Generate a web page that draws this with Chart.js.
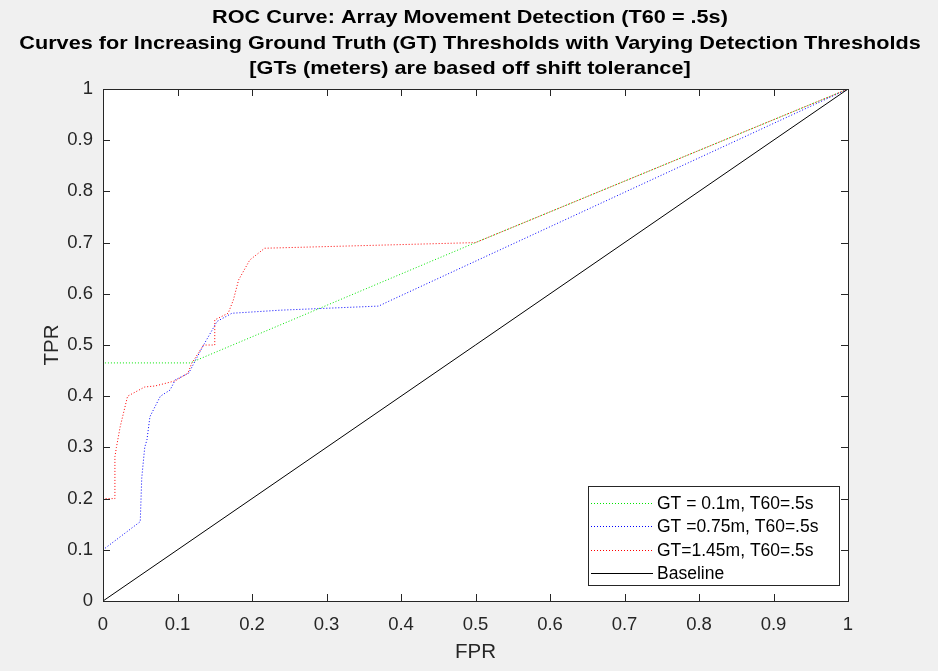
<!DOCTYPE html>
<html>
<head>
<meta charset="utf-8">
<script src="https://cdn.jsdelivr.net/npm/chart.js@4"></script>
<style>
  html, body { margin: 0; padding: 0; background: #f0f0f0; }
  #wrap { width: 938px; height: 671px; }
</style>
</head>
<body>
<div id="wrap"><canvas id="roc" width="938" height="671"></canvas></div>
<script>
// values
const titleLines = [
    'ROC Curve: Array Movement Detection (T60 = .5s)',
    'Curves for Increasing Ground Truth (GT) Thresholds with Varying Detection Thresholds',
    '[GTs (meters) are based off shift tolerance]'
];
const tickVals = [0, 0.1, 0.2, 0.3, 0.4, 0.5, 0.6, 0.7, 0.8, 0.9, 1];

const gt01Fpr = [0, 0, 0.117, 0.5, 1];
const gt01Tpr = [0, 0.465, 0.465, 0.70, 1];

const gt075Fpr = [0, 0, 0.05, 0.052, 0.056, 0.059, 0.063, 0.07, 0.077, 0.09, 0.097, 0.115, 0.123, 0.135, 0.148, 0.153, 0.173, 0.238, 0.37, 0.383, 1];
const gt075Tpr = [0, 0.1, 0.155, 0.24, 0.30, 0.315, 0.36, 0.38, 0.40, 0.412, 0.432, 0.445, 0.467, 0.50, 0.533, 0.546, 0.562, 0.568, 0.576, 0.585, 1];

const gt145Fpr = [0, 0, 0.016, 0.016, 0.018, 0.023, 0.033, 0.056, 0.07, 0.097, 0.114, 0.119, 0.135, 0.15, 0.15, 0.168, 0.175, 0.182, 0.197, 0.217, 0.5, 1];
const gt145Tpr = [0, 0.2, 0.2, 0.282, 0.30, 0.34, 0.40, 0.418, 0.42, 0.43, 0.445, 0.464, 0.50, 0.50, 0.549, 0.562, 0.588, 0.627, 0.666, 0.689, 0.70, 1];

const baseFpr = [0, 1];
const baseTpr = [0, 1];

const pts = (xs, ys) => xs.map((x, i) => ({ x: x, y: ys[i] }));
const FONT = '"Liberation Sans", Arial, Helvetica, sans-serif';
const AX = '#262626';

// white plot area, box with inward ticks, title, legend
const matlabLook = {
    id: 'matlabLook',
    beforeDraw(chart) {
        const c = chart.ctx, a = chart.chartArea;
        c.save();
        c.fillStyle = '#f0f0f0';
        c.fillRect(0, 0, chart.width, chart.height);
        c.fillStyle = '#fff';
        c.fillRect(a.left, a.top, a.right - a.left, a.bottom - a.top);
        c.restore();
    },
    afterDraw(chart) {
        const c = chart.ctx, a = chart.chartArea;
        const xs = chart.scales.x, ys = chart.scales.y;
        c.save();
        c.strokeStyle = AX;
        c.lineWidth = 1;
        c.strokeRect(Math.round(a.left) + 0.5, Math.round(a.top) + 0.5, Math.round(a.right - a.left), Math.round(a.bottom - a.top));
        const tl = 7;
        c.beginPath();
        tickVals.forEach(v => {
            const px = Math.round(xs.getPixelForValue(v)) + 0.5;
            c.moveTo(px, a.bottom); c.lineTo(px, a.bottom - tl);
            c.moveTo(px, a.top); c.lineTo(px, a.top + tl);
            const py = Math.round(ys.getPixelForValue(v)) + 0.5;
            c.moveTo(a.left, py); c.lineTo(a.left + tl, py);
            c.moveTo(a.right, py); c.lineTo(a.right - tl, py);
        });
        c.stroke();

        // title (matlab's bold helvetica is wider, so stretch a bit)
        c.fillStyle = '#000';
        c.font = 'bold 19px ' + FONT;
        c.textAlign = 'center';
        c.textBaseline = 'middle';
        const sx = 1.14;
        titleLines.forEach((t, i) => {
            c.save();
            c.translate(470, 18 + i * 25.5);
            c.scale(sx, 1);
            c.fillText(t, 0, 0);
            c.restore();
        });

        // legend
        const bx = 588.5, by = 486.5, bw = 251, bh = 99;
        c.fillStyle = '#fff';
        c.fillRect(bx, by, bw, bh);
        c.strokeStyle = AX;
        c.strokeRect(bx, by, bw, bh);
        c.font = '17.5px ' + FONT;
        c.textAlign = 'left';
        c.fillStyle = '#000';
        chart.data.datasets.forEach((ds, i) => {
            const y = Math.round(503 + i * 23.3) + 0.5;
            c.strokeStyle = ds.borderColor;
            c.setLineDash(ds.borderDash || []);
            c.beginPath();
            c.moveTo(591, y); c.lineTo(653, y);
            c.stroke();
            c.setLineDash([]);
            c.fillText(ds.label, 657, y + 1);
        });
        c.restore();
    }
};

new Chart(document.getElementById('roc'), {
    type: 'scatter',
    data: {
        datasets: [
            { label: 'GT = 0.1m, T60=.5s', data: pts(gt01Fpr, gt01Tpr), borderColor: '#00e600', borderDash: [1, 2], order: 3 },
            { label: 'GT =0.75m, T60=.5s', data: pts(gt075Fpr, gt075Tpr), borderColor: '#0000ff', borderDash: [1, 2], order: 2 },
            { label: 'GT=1.45m, T60=.5s', data: pts(gt145Fpr, gt145Tpr), borderColor: '#ff0000', borderDash: [1, 2], order: 1 },
            { label: 'Baseline', data: pts(baseFpr, baseTpr), borderColor: '#000000', order: 0 }
        ].map(d => Object.assign({ showLine: true, pointRadius: 0, borderWidth: 1, tension: 0, fill: false }, d))
    },
    options: {
        responsive: false,
        devicePixelRatio: 1,
        animation: false,
        layout: { padding: { top: 89, right: 90, left: 0, bottom: 0 } },
        plugins: { legend: { display: false }, title: { display: false }, tooltip: { enabled: false } },
        scales: {
            x: {
                type: 'linear', min: 0, max: 1,
                afterFit: s => { s.height = 70; },
                afterBuildTicks: s => { s.ticks = tickVals.map(v => ({ value: v })); },
                grid: { display: false, drawTicks: false },
                border: { display: false },
                ticks: { padding: 13, color: AX, font: { family: FONT, size: 18.5 }, callback: v => String(+v.toFixed(1)) },
                title: { display: true, text: 'FPR', color: AX, font: { family: FONT, size: 20.5 }, padding: { top: 4, bottom: 6 } }
            },
            y: {
                type: 'linear', min: 0, max: 1,
                afterFit: s => { s.width = 103; },
                afterBuildTicks: s => { s.ticks = tickVals.map(v => ({ value: v })); },
                grid: { display: false, drawTicks: false },
                border: { display: false },
                ticks: { padding: 10, color: AX, font: { family: FONT, size: 18.5 }, callback: v => String(+v.toFixed(1)) },
                title: { display: true, text: 'TPR', color: AX, font: { family: FONT, size: 20.5 }, padding: { top: 40, bottom: 0 } }
            }
        }
    },
    plugins: [matlabLook]
});
</script>
</body>
</html>
